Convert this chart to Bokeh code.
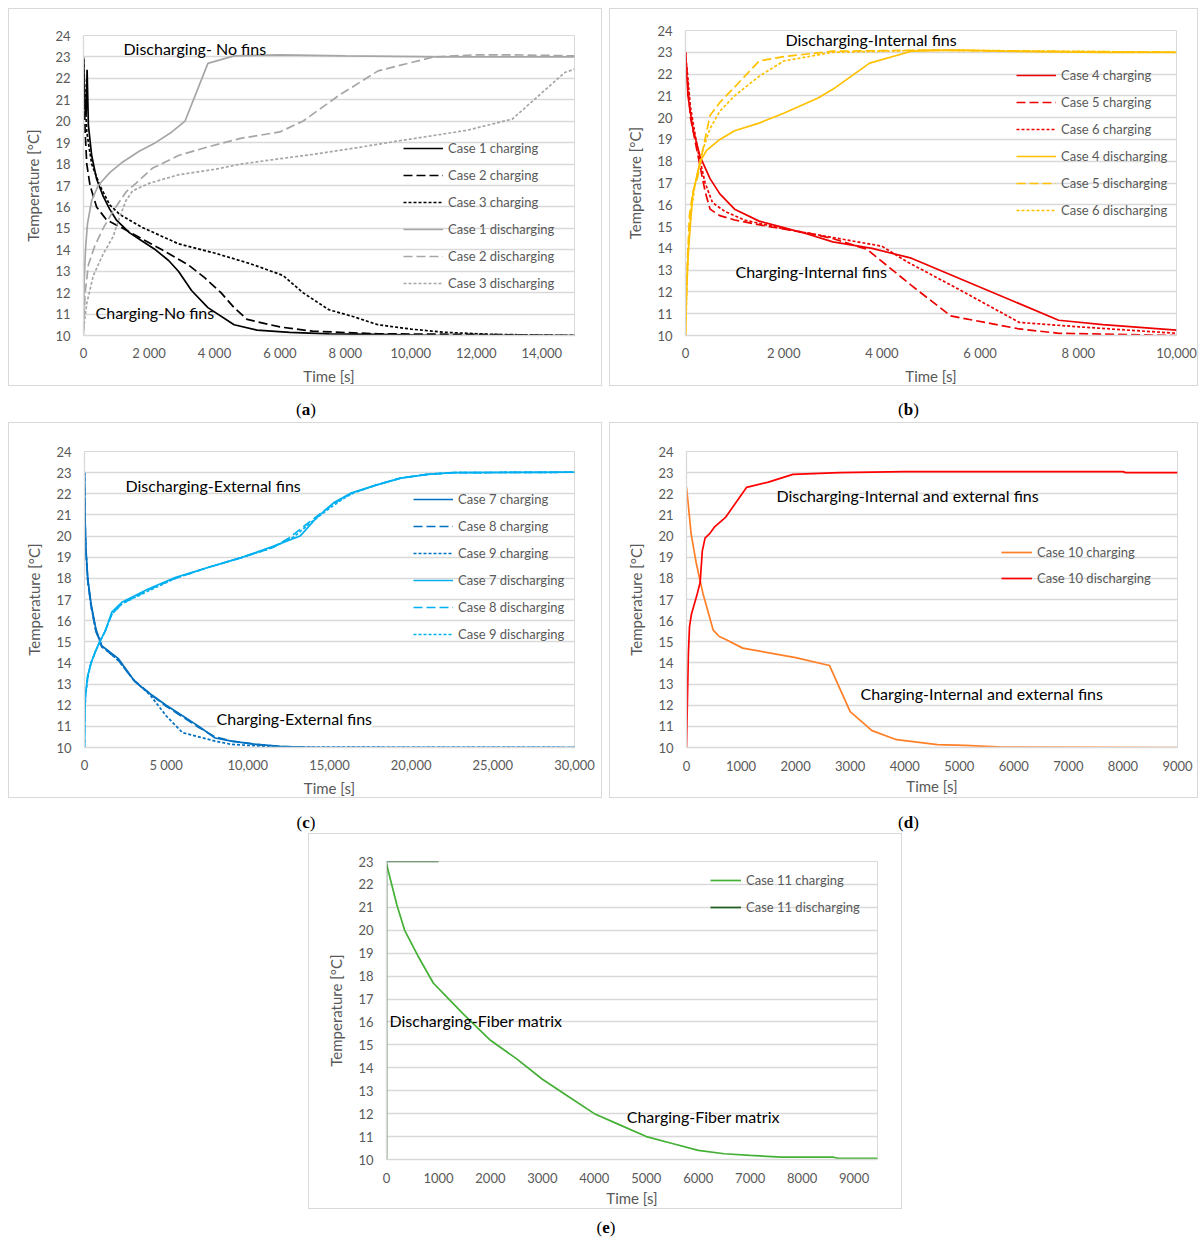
from bokeh.plotting import figure
from bokeh.models import Range1d, FixedTicker, Label, Div, Spacer
from bokeh.layouts import column, row
from bokeh.embed import file_html
from bokeh.resources import INLINE

FONT = "Lato"
GRID = "#d9d9d9"
TXT = "#595959"

# ---------------- (a) no fins ----------------
a_x_ticks = [0, 2000, 4000, 6000, 8000, 10000, 12000, 14000]
a_x_labels = ["0", "2 000", "4 000", "6 000", "8 000", "10,000", "12,000", "14,000"]
a_c1_t = [0, 40, 80, 110, 150, 250, 400, 600, 800, 1000, 1400, 1800, 2200, 2600, 2900, 3300, 3800, 4600, 5300, 6300, 7500, 9000, 11000, 15000]
a_c1_T = [23.0, 20.6, 20.3, 22.4, 19.8, 18.4, 17.3, 16.5, 15.9, 15.4, 14.8, 14.4, 14.0, 13.5, 13.0, 12.1, 11.3, 10.5, 10.25, 10.15, 10.08, 10.05, 10.0, 10.0]
a_c2_t = [0, 50, 100, 200, 400, 700, 1200, 1800, 2400, 3200, 3700, 4200, 4600, 5000, 6000, 7000, 9000, 12000, 15000]
a_c2_T = [22.9, 19.5, 18.0, 17.0, 16.0, 15.4, 15.0, 14.5, 14.0, 13.3, 12.7, 12.0, 11.3, 10.75, 10.4, 10.2, 10.08, 10.05, 10.0]
a_c3_t = [0, 100, 250, 500, 800, 1100, 1800, 2900, 4000, 5100, 6100, 6700, 7500, 8200, 9000, 10000, 11000, 12500, 15000]
a_c3_T = [22.9, 19.5, 18.0, 17.0, 16.1, 15.66, 15.04, 14.28, 13.85, 13.35, 12.8, 12.0, 11.2, 10.9, 10.5, 10.3, 10.15, 10.05, 10.0]
a_d1_t = [0, 20, 60, 120, 250, 450, 800, 1200, 1700, 2200, 2700, 3100, 3800, 4600, 6000, 8000, 11000, 15000]
a_d1_T = [10.0, 12.5, 14.0, 15.2, 16.3, 17.0, 17.6, 18.1, 18.6, 19.0, 19.5, 20.0, 22.7, 23.05, 23.1, 23.05, 23.0, 23.0]
a_d2_t = [0, 50, 150, 350, 600, 900, 1300, 1600, 2100, 2900, 3800, 4800, 6000, 6700, 7800, 9000, 10700, 12000, 13000, 15000]
a_d2_T = [10.2, 12.0, 13.3, 14.2, 15.0, 15.8, 16.7, 17.1, 17.8, 18.4, 18.8, 19.2, 19.5, 20.0, 21.2, 22.35, 23.0, 23.1, 23.1, 23.05]
a_d3_t = [0, 100, 300, 600, 900, 1100, 1300, 1500, 2000, 2900, 4000, 4800, 6000, 7000, 8500, 9700, 11700, 13100, 14700, 15000]
a_d3_T = [10.3, 11.5, 12.8, 13.8, 14.6, 15.5, 16.3, 16.75, 17.1, 17.5, 17.75, 18.0, 18.25, 18.45, 18.8, 19.1, 19.57, 20.1, 22.27, 22.43]

# ---------------- (b) internal fins ----------------
b_x_ticks = [0, 2000, 4000, 6000, 8000, 10000]
b_x_labels = ["0", "2 000", "4 000", "6 000", "8 000", "10,000"]
b_c4_t = [0, 50, 150, 300, 500, 700, 1000, 1500, 2000, 2500, 3000, 3800, 4600, 7600, 8500, 10000]
b_c4_T = [23.0, 21.0, 19.5, 18.2, 17.2, 16.5, 15.8, 15.25, 14.95, 14.65, 14.3, 14.0, 13.55, 10.7, 10.5, 10.25]
b_c5_t = [0, 100, 250, 400, 500, 700, 1000, 1700, 2500, 3000, 3700, 4600, 5400, 6800, 7600, 10000]
b_c5_T = [23.0, 20.0, 18.3, 16.6, 15.8, 15.5, 15.3, 15.0, 14.7, 14.45, 13.95, 12.3, 10.9, 10.3, 10.1, 10.0]
b_c6_t = [0, 100, 250, 400, 550, 800, 1200, 2000, 3000, 4000, 4500, 5500, 6800, 8000, 10000]
b_c6_T = [23.0, 20.5, 18.5, 17.0, 16.1, 15.7, 15.3, 14.9, 14.5, 14.1, 13.4, 12.2, 10.6, 10.4, 10.1]
b_d4_t = [0, 20, 60, 150, 300, 430, 700, 1000, 1500, 2000, 2700, 3000, 3750, 4600, 5500, 6500, 8500, 10000]
b_d4_T = [10.0, 12.0, 14.0, 16.5, 18.0, 18.5, 19.0, 19.4, 19.75, 20.2, 20.9, 21.3, 22.5, 23.05, 23.1, 23.05, 23.0, 23.0]
b_d5_t = [0, 30, 80, 150, 250, 350, 500, 700, 1000, 1500, 2000, 3000, 5000, 7000, 10000]
b_d5_T = [10.0, 13.0, 15.5, 16.6, 17.3, 18.5, 20.1, 20.7, 21.4, 22.6, 22.8, 23.05, 23.1, 23.05, 23.0]
b_d6_t = [0, 40, 100, 200, 350, 500, 700, 1000, 1500, 2000, 3000, 5000, 10000]
b_d6_T = [10.0, 13.0, 15.5, 17.0, 18.5, 19.5, 20.3, 21.0, 21.9, 22.6, 23.0, 23.1, 23.0]

# ---------------- (c) external fins ----------------
c_x_ticks = [0, 5000, 10000, 15000, 20000, 25000, 30000]
c_x_labels = ["0", "5 000", "10,000", "15,000", "20,000", "25,000", "30,000"]
c_c7_t = [0, 30, 80, 200, 400, 700, 1060, 1500, 2080, 3100, 3900, 5000, 6000, 7000, 8000, 9000, 10500, 12000, 14000, 30000]
c_c7_T = [23.0, 21.0, 19.5, 18.0, 16.8, 15.6, 14.8, 14.55, 14.2, 13.1, 12.6, 12.0, 11.5, 11.0, 10.45, 10.3, 10.15, 10.05, 10.0, 10.0]
c_c8_t = [0, 30, 80, 200, 400, 700, 1060, 1500, 2100, 3000, 4000, 5000, 6000, 7000, 8000, 9000, 10500, 12000, 14000, 30000]
c_c8_T = [23.0, 20.8, 19.3, 17.9, 16.7, 15.5, 14.75, 14.5, 14.1, 13.2, 12.55, 11.95, 11.45, 10.95, 10.5, 10.3, 10.15, 10.05, 10.0, 10.0]
c_c9_t = [0, 30, 80, 200, 400, 700, 1060, 1500, 2100, 3000, 4000, 5000, 6000, 7000, 8000, 9000, 10000, 12000, 30000]
c_c9_T = [23.0, 20.9, 19.4, 17.9, 16.7, 15.5, 14.8, 14.5, 14.1, 13.2, 12.5, 11.5, 10.7, 10.5, 10.3, 10.15, 10.1, 10.02, 10.0]
c_d7_t = [0, 15, 60, 200, 400, 700, 1000, 1265, 1670, 2290, 3900, 5550, 7500, 9600, 11500, 13200, 14250, 15300, 16300, 17800, 19350, 21000, 22600, 30000]
c_d7_T = [10.0, 11.5, 12.5, 13.4, 14.0, 14.6, 15.1, 15.5, 16.4, 16.87, 17.5, 18.04, 18.5, 18.98, 19.5, 20.0, 20.9, 21.6, 22.03, 22.4, 22.74, 22.92, 23.0, 23.02]
c_d8_t = [0, 15, 60, 200, 400, 700, 1000, 1265, 1670, 2290, 3900, 5550, 7500, 9600, 11500, 12500, 13500, 14500, 15500, 16300, 17800, 19350, 21000, 22600, 30000]
c_d8_T = [10.0, 11.5, 12.5, 13.4, 14.0, 14.6, 15.1, 15.5, 16.3, 16.8, 17.45, 18.0, 18.5, 18.98, 19.45, 19.9, 20.5, 21.1, 21.65, 22.0, 22.4, 22.74, 22.92, 23.0, 23.02]
c_d9_t = [0, 15, 60, 200, 400, 700, 1000, 1265, 1670, 2290, 3900, 5550, 7500, 9600, 11500, 12800, 13800, 14800, 15800, 16500, 17800, 19350, 21000, 22600, 30000]
c_d9_T = [10.0, 11.4, 12.4, 13.3, 14.0, 14.6, 15.1, 15.5, 16.3, 16.8, 17.4, 18.0, 18.5, 18.98, 19.45, 19.95, 20.6, 21.2, 21.75, 22.05, 22.4, 22.74, 22.92, 23.0, 23.02]

# ---------------- (d) internal and external fins ----------------
d_x_ticks = [0, 1000, 2000, 3000, 4000, 5000, 6000, 7000, 8000, 9000]
d_x_labels = ["0", "1000", "2000", "3000", "4000", "5000", "6000", "7000", "8000", "9000"]
d_c10_t = [0, 40, 85, 180, 300, 420, 490, 600, 730, 1030, 2000, 2620, 3000, 3400, 3850, 4600, 5100, 5800, 9000]
d_c10_T = [22.3, 21.3, 20.1, 18.7, 17.3, 16.2, 15.55, 15.25, 15.1, 14.7, 14.25, 13.88, 11.7, 10.8, 10.37, 10.14, 10.1, 10.02, 10.0]
d_d10_t = [0, 15, 35, 55, 90, 200, 250, 290, 340, 420, 520, 720, 1100, 1500, 1950, 2800, 4000, 8000, 8050, 9000]
d_d10_T = [10.0, 12.0, 14.5, 15.7, 16.3, 17.3, 17.8, 19.3, 19.9, 20.1, 20.45, 20.9, 22.3, 22.55, 22.92, 23.0, 23.05, 23.05, 23.0, 23.0]

# ---------------- (e) fiber matrix ----------------
e_x_ticks = [0, 1000, 2000, 3000, 4000, 5000, 6000, 7000, 8000, 9000]
e_x_labels = ["0", "1000", "2000", "3000", "4000", "5000", "6000", "7000", "8000", "9000"]
e_c11_t = [0, 100, 200, 350, 600, 900, 1200, 1500, 2000, 2500, 3000, 3500, 4000, 4500, 5000, 5500, 6000, 6500, 7000, 7600, 8600, 8700, 9450]
e_c11_T = [22.9, 22.0, 21.1, 20.0, 18.9, 17.7, 17.0, 16.3, 15.2, 14.4, 13.5, 12.75, 12.0, 11.5, 11.0, 10.7, 10.4, 10.25, 10.18, 10.1, 10.1, 10.05, 10.05]
e_d11_t = [0, 0, 1000]
e_d11_T = [10.0, 23.0, 23.0]

DASH = "9 4"
DOT = "3 2"
LW = 1.7


def make_fig(width, height, x_end, y_end, x_ticks, x_labels, borders, x_std=3):
    left, right, top, bottom = borders
    p = figure(width=width, height=height, x_range=Range1d(0, x_end), y_range=Range1d(10, y_end),
               output_backend="svg", toolbar_location=None, title_location=None,
               min_border_left=left, min_border_right=right,
               min_border_top=top, min_border_bottom=bottom,
               x_axis_label="Time [s]", y_axis_label="Temperature [°C]",
               background_fill_color="white", border_fill_color="white",
               outline_line_color=GRID, styles={"border": "1px solid #d9d9d9"})
    p.xaxis.ticker = FixedTicker(ticks=x_ticks)
    p.xaxis.major_label_overrides = {t: s for t, s in zip(x_ticks, x_labels)}
    yt = list(range(10, y_end + 1))
    p.yaxis.ticker = FixedTicker(ticks=yt)
    p.xgrid.visible = False
    p.ygrid.ticker = FixedTicker(ticks=yt)
    p.ygrid.grid_line_color = GRID
    p.ygrid.grid_line_width = 1.3
    for ax in (p.xaxis, p.yaxis):
        ax.axis_line_color = GRID
        ax.axis_line_width = 1.3
        ax.major_tick_line_color = None
        ax.minor_tick_line_color = None
        ax.major_label_text_font = FONT
        ax.major_label_text_font_size = "13px"
        ax.major_label_text_color = TXT
        ax.axis_label_text_font = FONT
        ax.axis_label_text_font_size = "15px"
        ax.axis_label_text_color = TXT
        ax.axis_label_text_font_style = "normal"
    p.yaxis.major_label_standoff = 7
    p.yaxis.axis_label_standoff = 10
    p.xaxis.major_label_standoff = x_std
    p.xaxis.axis_label_standoff = 3
    return p


def style_legend(p, loc, glyph_w=40, spacing=7):
    lg = p.legend[0]
    lg.location = loc
    lg.glyph_width = glyph_w
    lg.glyph_height = 20
    lg.label_height = 20
    lg.spacing = spacing
    lg.padding = 0
    lg.margin = 0
    lg.label_standoff = 5
    lg.border_line_color = None
    lg.background_fill_alpha = 0
    lg.label_text_font = FONT
    lg.label_text_font_size = "13px"
    lg.label_text_color = TXT


def note(p, x, y, text, bg=None):
    lab = Label(x=x, y=y, text=text, text_font=FONT, text_font_size="16px",
                text_color="black", text_baseline="middle", text_align="left")
    if bg:
        lab.background_fill_color = bg
    p.add_layout(lab)


# (a)
pa = make_fig(594, 378, 15000, 24, a_x_ticks, a_x_labels, (74, 29, 26, 51))
pa.line(a_c1_t, a_c1_T, color="#000000", line_width=LW, legend_label="Case 1 charging")
pa.line(a_c2_t, a_c2_T, color="#000000", line_width=LW, line_dash=DASH, legend_label="Case 2 charging")
pa.line(a_c3_t, a_c3_T, color="#000000", line_width=LW, line_dash=DOT, legend_label="Case 3 charging")
pa.line(a_d1_t, a_d1_T, color="#a6a6a6", line_width=LW, legend_label="Case 1 discharging")
pa.line(a_d2_t, a_d2_T, color="#a6a6a6", line_width=LW, line_dash=DASH, legend_label="Case 2 discharging")
pa.line(a_d3_t, a_d3_T, color="#a6a6a6", line_width=LW, line_dash=DOT, legend_label="Case 3 discharging")
style_legend(pa, (320, 42))
note(pa, 1224, 23.39, "Discharging- No fins")
note(pa, 367, 11.07, "Charging-No fins")

# (b)
pb = make_fig(589, 378, 10000, 24, b_x_ticks, b_x_labels, (75, 23, 21, 51))
pb.line(b_c4_t, b_c4_T, color="#ee0000", line_width=LW, legend_label="Case 4 charging")
pb.line(b_c5_t, b_c5_T, color="#ee0000", line_width=LW, line_dash=DASH, legend_label="Case 5 charging")
pb.line(b_c6_t, b_c6_T, color="#ee0000", line_width=LW, line_dash=DOT, legend_label="Case 6 charging")
pb.line(b_d4_t, b_d4_T, color="#ffc000", line_width=LW, legend_label="Case 4 discharging")
pb.line(b_d5_t, b_d5_T, color="#ffc000", line_width=LW, line_dash=DASH, legend_label="Case 5 discharging")
pb.line(b_d6_t, b_d6_T, color="#ffc000", line_width=LW, line_dash=DOT, legend_label="Case 6 discharging")
style_legend(pb, (331, 115))
note(pb, 2037, 23.58, "Discharging-Internal fins")
note(pb, 1018, 12.94, "Charging-Internal fins")

# (c)
pc = make_fig(594, 376, 30000, 24, c_x_ticks, c_x_labels, (75, 29, 27, 51))
pc.line(c_c7_t, c_c7_T, color="#0070c0", line_width=LW, legend_label="Case 7 charging")
pc.line(c_c8_t, c_c8_T, color="#0070c0", line_width=LW, line_dash=DASH, legend_label="Case 8 charging")
pc.line(c_c9_t, c_c9_T, color="#0070c0", line_width=LW, line_dash=DOT, legend_label="Case 9 charging")
pc.line(c_d7_t, c_d7_T, color="#00b0f0", line_width=LW, legend_label="Case 7 discharging")
pc.line(c_d8_t, c_d8_T, color="#00b0f0", line_width=LW, line_dash=DASH, legend_label="Case 8 discharging")
pc.line(c_d9_t, c_d9_T, color="#00b0f0", line_width=LW, line_dash=DOT, legend_label="Case 9 discharging")
style_legend(pc, (329, 103))
note(pc, 2511, 22.4, "Discharging-External fins")
note(pc, 8083, 11.36, "Charging-External fins", bg="white")

# (d)
pd_ = make_fig(589, 376, 9000, 24, d_x_ticks, d_x_labels, (76, 22, 28, 51), x_std=7)
pd_.line(d_c10_t, d_c10_T, color="#ff7f27", line_width=LW, legend_label="Case 10 charging")
pd_.line(d_d10_t, d_d10_T, color="#ff0000", line_width=LW, legend_label="Case 10 discharging")
style_legend(pd_, (315, 159), glyph_w=31, spacing=6)
note(pd_, 1650, 21.93, "Discharging-Internal and external fins")
note(pd_, 3189, 12.55, "Charging-Internal and external fins")

# (e)
pe = make_fig(594, 376, 9450, 23, e_x_ticks, e_x_labels, (77, 26, 27, 51), x_std=7)
pe.line(e_c11_t, e_c11_T, color="#44b035", line_width=LW, legend_label="Case 11 charging")
pe.line(e_d11_t, e_d11_T, color="#1f5c1f", line_width=LW, legend_label="Case 11 discharging")
style_legend(pe, (324, 242), glyph_w=31, spacing=7)
note(pe, 58, 16.06, "Discharging-Fiber matrix")
note(pe, 4623, 11.88, "Charging-Fiber matrix")


def tag(letter, width, height, pad_top, pad_left=0):
    html = ('<div style="width:%dpx;text-align:center;padding-top:%dpx;padding-left:%dpx;'
            'box-sizing:border-box;font-family:\'Liberation Serif\',serif;font-size:17px;color:#000;">'
            '(<b>%s</b>)</div>' % (width, pad_top, pad_left, letter))
    return Div(text=html, width=width, height=height, margin=0)


grid = column(
    Spacer(width=8, height=8),
    row(column(pa), Spacer(width=7, height=380), column(pb)),
    row(tag("a", 596, 34, 10), Spacer(width=7, height=34), tag("b", 591, 34, 10, 4)),
    row(pc, Spacer(width=7, height=378), pd_),
    row(tag("c", 596, 33, 11), Spacer(width=7, height=33), tag("d", 591, 33, 11, 4)),
    row(Spacer(width=300, height=378), pe),
    row(Spacer(width=300, height=20), tag("e", 596, 20, 5)),
)
layout = row(Spacer(width=8, height=8), grid)

open("out.html", "w").write(file_html(layout, INLINE))
